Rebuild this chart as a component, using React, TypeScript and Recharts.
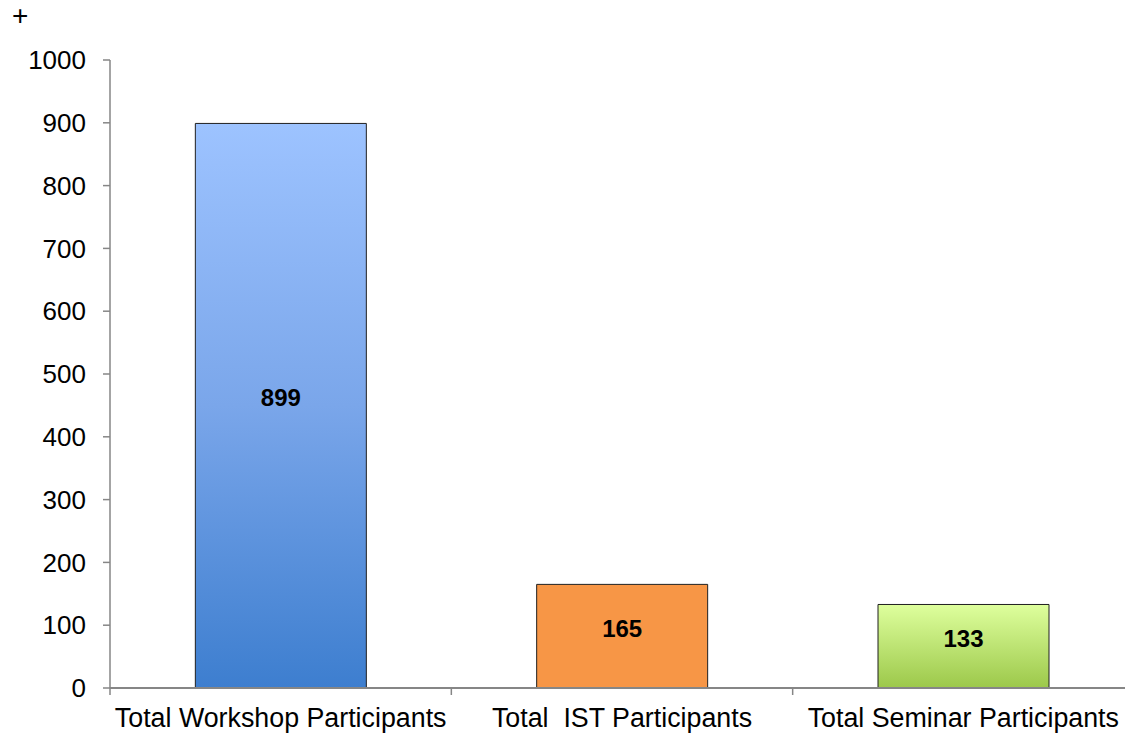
import { BarChart, Bar, XAxis, YAxis, Cell, LabelList } from "recharts";

const categories = [
  "Total Workshop Participants",
  "Total  IST Participants",
  "Total Seminar Participants",
];
const participants = [899, 165, 133];
const yTicks = [0, 100, 200, 300, 400, 500, 600, 700, 800, 900, 1000];
const fills = ["url(#gradBlue)", "#F79646", "url(#gradGreen)"];

const data = categories.map((name, i) => ({ name, value: participants[i] }));

const FONT = "'Liberation Sans', Arial, sans-serif";

function CategoryTick(props: any) {
  const { x, y, payload } = props;
  const half = payload?.offset ?? 0;
  return (
    <g>
      <line x1={x - half} x2={x - half} y1={y - 7} y2={y} stroke="#868686" strokeWidth={1.5} />
      <text
        x={x}
        y={y}
        dy={32}
        textAnchor="middle"
        fill="#000"
        fontSize={26.8}
        fontFamily={FONT}
        style={{ whiteSpace: "pre" }}
      >
        {payload.value}
      </text>
    </g>
  );
}

function ValueLabel(props: any) {
  const { x, y, width, height, value } = props;
  return (
    <text
      x={x + width / 2}
      y={y + height / 2}
      dy={-8}
      textAnchor="middle"
      dominantBaseline="central"
      fill="#000"
      fontSize={24}
      fontWeight="bold"
      fontFamily={FONT}
    >
      {value}
    </text>
  );
}

export default function App() {
  return (
    <div
      style={{
        position: "absolute",
        left: 0,
        top: 0,
        width: 1125,
        height: 733,
        overflow: "hidden",
        background: "#fff",
        fontFamily: FONT,
      }}
    >
      <div
        style={{
          position: "absolute",
          left: 12,
          top: 2,
          fontSize: 28,
          lineHeight: "28px",
          color: "#000",
        }}
      >
        +
      </div>
      <BarChart
        width={1134}
        height={733}
        data={data}
        margin={{ top: 60, right: 0, left: 0, bottom: 0 }}
        barCategoryGap="25%"
      >
        <defs>
          <linearGradient id="gradBlue" x1="0" y1="0" x2="0" y2="1">
            <stop offset="0%" stopColor="#9DC3FF" />
            <stop offset="50%" stopColor="#7AA6EA" />
            <stop offset="100%" stopColor="#3D7ECF" />
          </linearGradient>
          <linearGradient id="gradGreen" x1="0" y1="0" x2="0" y2="1">
            <stop offset="0%" stopColor="#DEFF9D" />
            <stop offset="100%" stopColor="#9CC84A" />
          </linearGradient>
        </defs>
        <XAxis
          dataKey="name"
          height={45}
          tickLine={false}
          tickSize={7}
          tickMargin={0}
          axisLine={{ stroke: "#868686", strokeWidth: 2 }}
          tick={<CategoryTick />}
          interval={0}
        />
        <YAxis
          width={110}
          domain={[0, 1000]}
          ticks={yTicks}
          tickSize={7}
          tickMargin={17}
          axisLine={{ stroke: "#868686", strokeWidth: 1.5 }}
          tickLine={{ stroke: "#868686", strokeWidth: 1.5 }}
          tick={{ fill: "#000", fontSize: 26, fontFamily: FONT }}
          interval={0}
        />
        <Bar dataKey="value" stroke="#1f1f1f" strokeWidth={1} isAnimationActive={false}>
          {data.map((d, i) => (
            <Cell key={d.name} fill={fills[i]} />
          ))}
          <LabelList dataKey="value" content={<ValueLabel />} />
        </Bar>
      </BarChart>
    </div>
  );
}
